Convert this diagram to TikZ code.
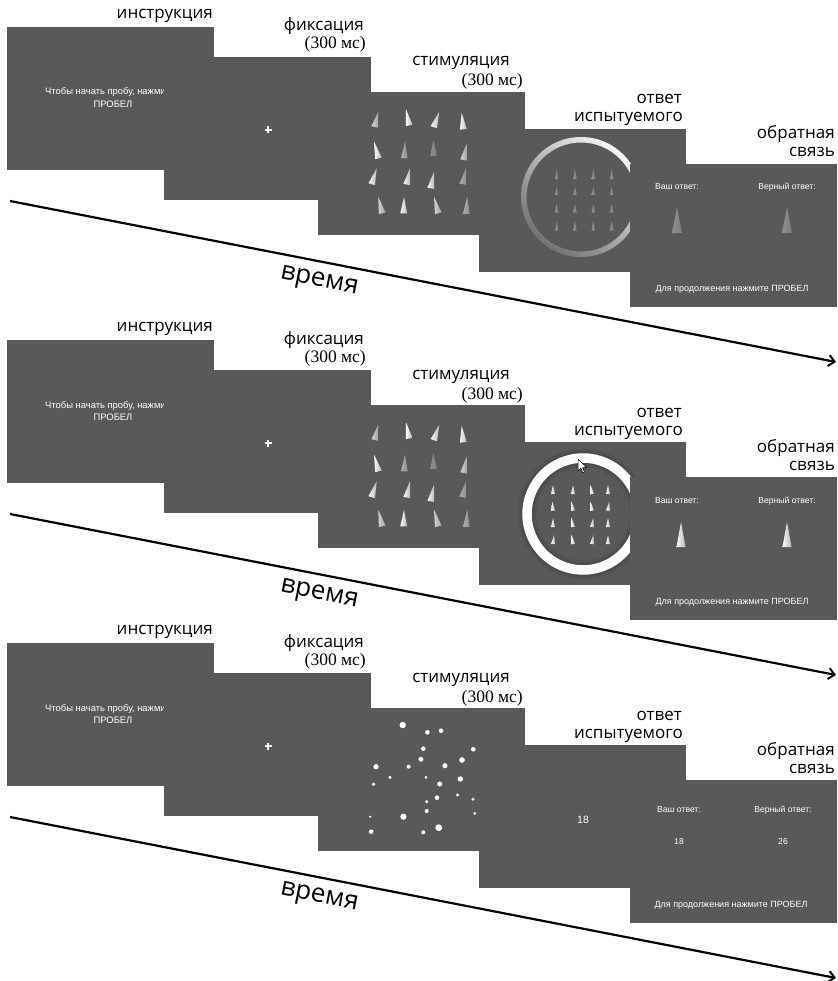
\documentclass[tikz,border=0pt]{standalone}
\usepackage{fontspec}
\newfontfamily\labfont{Open Sans}
\newfontfamily\serfont{Liberation Serif}
\newfontfamily\scrfont{Liberation Sans}
\usetikzlibrary{calc,arrows.meta}
\definecolor{scrgray}{RGB}{89,89,89}
\definecolor{tw}{RGB}{248,248,248}
\definecolor{tl}{RGB}{210,210,210}
\definecolor{tm}{RGB}{175,175,175}
\definecolor{td}{RGB}{145,145,145}
\tikzset{
  screen/.style={rectangle, fill=scrgray, inner sep=0pt, anchor=north west,
    minimum width=207pt, minimum height=143pt},
  lab/.style={anchor=base east, inner sep=0pt, font=\labfont\fontsize{17}{17}\selectfont},
  ms/.style={anchor=base east, inner sep=0pt, font=\serfont\fontsize{17.5}{17.5}\selectfont},
  small/.style={text=white, inner sep=0pt, anchor=base, font=\scrfont\fontsize{8.6}{8.6}\selectfont},
  instr/.style={small, font=\scrfont\fontsize{9.4}{9.4}\selectfont},
  timeline/.style={line width=2.2pt, -{Straight Barb[length=6pt,width=11pt,line width=2pt]}},
  timelab/.style={font=\labfont\fontsize{26}{26}\selectfont, rotate=-11.1, inner sep=0pt},
}
% triangle: apex x, apex y, base x, base y, half width, colour
\newcommand\tri[6]{\shade[left color=#6, right color=#6!60!scrgray]
  (#1,#2) -- ($(#3,#4)!#5!90:(#1,#2)$) -- ($(#3,#4)!#5!-90:(#1,#2)$) -- cycle;}
\newcommand\firsttwo[1]{%
  \node[screen] (#1s1) at (7,27) {};
  \node[instr, anchor=base west] (#1ta) at (45,95) {Чтобы начать пробу, нажмите};
  \node[instr] (#1tb) at (113,107.5) {ПРОБЕЛ};
  \node[screen] (#1s2) at (164,57) {};
  \draw[white, line width=1.3pt] (264.5,130) -- (271.5,130) (268,126.5) -- (268,133.5);
  \node[screen] (#1s3) at (318,92) {};
}
\newcommand\labels[1]{%
  \node[lab] (#1l1) at (213,18.5) {инструкция};
  \node[lab] (#1l2) at (364,31) {фиксация};
  \node[ms]  (#1l3) at (366,49) {(300 мс)};
  \node[lab] (#1l4) at (510,66) {стимуляция};
  \node[ms]  (#1l5) at (523,86) {(300 мс)};
  \node[lab] (#1l6) at (682,104) {ответ};
  \node[lab] (#1l7) at (683,122) {испытуемого};
  \node[lab] (#1l8) at (835,139) {обратная};
  \node[lab] (#1l9) at (835,157) {связь};
  \coordinate (#1a) at (10,201);
  \coordinate (#1b) at (836,362);
  \draw[timeline] (#1a) -- (#1b);
  \node[timelab] (#1time) at (319,282.5) {время};
}
\newcommand\stimtri{%
  \foreach \ax/\ay/\bx/\by/\c in {
    378.3/111.7/374.7/127/tl, 406/109.3/409.2/125.5/tw, 439.3/111.7/433.8/127.2/tw, 461.7/112.7/463.3/129.3/tw,
    374/141.7/378.5/158.3/tw, 405/141.7/404.3/158.3/tm, 433.3/140/433.7/156/td, 466.7/143.3/463.7/160/tl,
    376.7/168.3/371.7/184.2/tw, 410/168.3/406.7/184.5/tw, 434/171.7/430.8/188.3/tw, 466/168.3/462.8/184.2/tm,
    378.3/196.7/382.2/213.3/tl, 404/196.7/403.7/213.3/tw, 434/196.7/438.3/213.3/tl, 467.3/196.7/466.3/214/tm}
  {\tri{\ax}{\ay}{\bx}{\by}{3.4pt}{\c}}
}
\newcommand\feedtext[1]{%
  \node[small] (#1fa) at (677,190) {Ваш ответ:};
  \node[small] (#1fb) at (787,190) {Верный ответ:};
  \node[small, font=\scrfont\fontsize{9}{9}\selectfont] (#1fc) at (732,291) {Для продолжения нажмите ПРОБЕЛ};
}
\begin{document}
\begin{tikzpicture}[x=1pt, y=-1pt]
\fill[white] (0,0) rectangle (837,981);
\useasboundingbox (0,0) rectangle (837,981);

% ---------------- panel 1 ----------------
\begin{scope}
  \firsttwo{p1}
  \stimtri
  \node[screen] (p1s4) at (479,129) {};
  \shade[even odd rule, top color=white!92!gray, bottom color=scrgray!85!white, shading angle=-40]
    (581,197) circle (60pt) (581,197) circle (54.5pt);
  \foreach \x in {556.7,575,593.3,611.7}
    \foreach \ay/\by in {169.3/179.3,186.7/195,204/212.7,220.7/230.7}
      {\tri{\x}{\ay}{\x}{\by}{1.8pt}{td}}
  \node[screen] (p1s5) at (630,164) {};
  \feedtext{p1}
  \tri{677}{207}{677}{233}{5pt}{td}
  \tri{787}{207}{787}{233}{5pt}{td}
  \labels{p1}
\end{scope}

% ---------------- panel 2 ----------------
\begin{scope}[yshift=-313pt]
  \firsttwo{p2}
  \stimtri
  \node[screen] (p2s4) at (479,129) {};
  \draw[black, opacity=0.06, line width=19pt] (583,201) circle (56pt);
  \draw[black, opacity=0.08, line width=14pt] (583,201) circle (56pt);
  \draw[white, line width=9.5pt] (583,201) circle (56pt);
  \foreach \bx/\dx/\ay/\by in {
    553/0/172/181, 573/0/172/181, 592/-1.5/172/181, 608/0/172/181,
    553/-0.7/188.7/197.7, 573/-1.5/188.7/197.7, 592/-1.5/188.7/197.7, 608/1.2/188.7/197.7,
    553/0/205/214, 573/-1.5/205/214, 592/1.3/205/214, 608/0/205/214,
    553/1.2/222/231, 573/-1.5/222/231, 592/1.3/222/231, 608/0/222/231}
    {\tri{\bx+\dx}{\ay}{\bx}{\by}{2pt}{tw}}
  \begin{scope}[shift={(578,146)}]
    \draw[fill=white, draw=black, line width=0.5pt, line join=round]
      (0,0) -- (0,12) -- (2.8,9.3) -- (4.8,13.8) -- (6.5,13) -- (4.6,8.7) -- (8.4,8.6) -- cycle;
  \end{scope}
  \node[screen] (p2s5) at (630,164) {};
  \feedtext{p2}
  \tri{681}{209}{681}{234}{4.5pt}{tw}
  \tri{787}{209}{787}{234}{4.5pt}{tw}
  \labels{p2}
\end{scope}

% ---------------- panel 3 ----------------
\begin{scope}[yshift=-616pt]
  \firsttwo{p3}
  \foreach \x/\y/\r in {
    402.7/109/3.2, 427.4/116.3/2.3, 441.1/114.7/2.3, 423.3/132.7/2.3, 473.3/133.3/2.3,
    420.9/143.3/2.5, 376/150.7/2.6, 408.6/150.7/2, 444.9/149.7/2.6, 462/144/2.8,
    390/161.3/1.7, 426/161.3/1.5, 460.3/163/2.7, 373.6/168.3/1.8, 439.7/168/2.5,
    437/181.7/2.3, 457.5/179/1.6, 426.7/185.7/1.7, 473/183.3/1.6, 426.7/195/2,
    474.7/197.3/1.5, 370.2/200.7/1.2, 403.4/200.7/3.1, 371.2/215.7/2.3, 423.3/216.3/2,
    438.7/211.7/3.4}
    {\fill[white] (\x,\y) circle (\r pt);}
  \node[screen] (p3s4) at (479,129) {};
  \node[small, font=\scrfont\fontsize{10.5}{10.5}\selectfont] (p3ans) at (583,207) {18};
  \node[screen] (p3s5) at (630,164) {};
  \node[small] (p3fa) at (679,196) {Ваш ответ:};
  \node[small] (p3fb) at (783,196) {Верный ответ:};
  \node[small] (p3fd) at (679,228) {18};
  \node[small] (p3fe) at (783,228) {26};
  \node[small, font=\scrfont\fontsize{9}{9}\selectfont] (p3fc) at (731,291) {Для продолжения нажмите ПРОБЕЛ};
  \labels{p3}
\end{scope}
\end{tikzpicture}
\end{document}
